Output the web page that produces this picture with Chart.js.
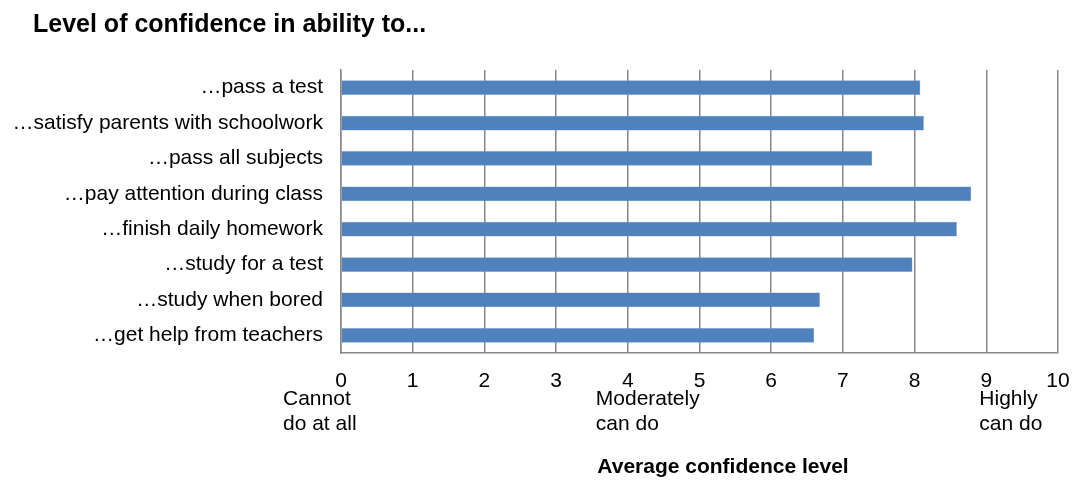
<!DOCTYPE html>
<html>
<head>
<meta charset="utf-8">
<script src="https://cdn.jsdelivr.net/npm/chart.js@4"></script>
<style>
  html, body { margin: 0; padding: 0; background: #fff; }
  .wrap { width: 1076px; height: 481px; position: relative; }
</style>
</head>
<body>
<div class="wrap"><canvas id="chart"></canvas></div>
<script>
// Datos del gráfico
const categories = [
  '…pass a test',
  '…satisfy parents with schoolwork',
  '…pass all subjects',
  '…pay attention during class',
  '…finish daily homework',
  '…study for a test',
  '…study when bored',
  '…get help from teachers'
];
const confidence = [8.08, 8.13, 7.41, 8.79, 8.59, 7.97, 6.68, 6.60];
const xTicks = [0, 1, 2, 3, 4, 5, 6, 7, 8, 9, 10];
const anchorValues = [0, 4, 9];
const anchorLabels = [['Cannot', 'do at all'], ['Moderately', 'can do'], ['Highly', 'can do']];

const FONT = '"Liberation Sans", Arial, sans-serif';
const GRID = '#878787';

// textos extra: título, anclas de la escala y título del eje
const extraText = {
  id: 'extraText',
  afterDraw(chart) {
    const c = chart.ctx;
    const x = chart.scales.x;
    c.save();
    c.fillStyle = '#000';
    c.textBaseline = 'alphabetic';
    c.textAlign = 'left';
    c.font = 'bold 25px ' + FONT;
    c.fillText('Level of confidence in ability to...', 33, 32);

    c.font = '21px ' + FONT;
    const offsets = [-58, -32, -7];
    anchorValues.forEach((v, i) => {
      const px = x.getPixelForValue(v) + offsets[i];
      anchorLabels[i].forEach((line, j) => c.fillText(line, px, 405 + j * 24.5));
    });

    c.font = 'bold 21px ' + FONT;
    c.textAlign = 'center';
    c.fillText('Average confidence level', 723, 473);
    c.restore();
  }
};

new Chart(document.getElementById('chart'), {
  type: 'bar',
  data: {
    labels: categories,
    datasets: [{
      data: confidence,
      backgroundColor: '#4f81bd',
      borderColor: '#7ea1d0',
      borderWidth: 0.5,
      categoryPercentage: 1,
      barPercentage: 0.42,
    }]
  },
  options: {
    indexAxis: 'y',
    responsive: true,
    maintainAspectRatio: false,
    animation: false,
    layout: { padding: { top: 70, right: 18, left: 0, bottom: 0 } },
    plugins: { legend: { display: false }, tooltip: { enabled: false } },
    scales: {
      x: {
        min: 0, max: 10,
        afterBuildTicks: s => { s.ticks = xTicks.map(v => ({ value: v })); },
        afterFit: s => { s.height = 128; s.paddingLeft = 0; s.paddingRight = 0; },
        grid: { color: GRID, lineWidth: 1.5, drawTicks: false },
        border: { color: GRID, width: 1.5 },
        ticks: { color: '#000', padding: 16, font: { family: FONT, size: 21 } },
      },
      y: {
        afterFit: s => { s.width = 341; },
        grid: { display: false, drawTicks: false },
        border: { color: GRID, width: 1.5 },
        ticks: { color: '#000', padding: 18, font: { family: FONT, size: 21 } },
      }
    }
  },
  plugins: [extraText]
});
</script>
</body>
</html>
